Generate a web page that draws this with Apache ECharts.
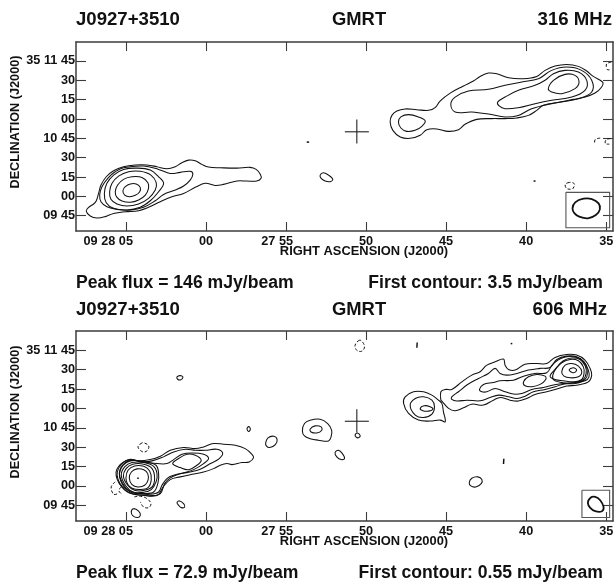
<!DOCTYPE html>
<html><head><meta charset="utf-8">
<style>html,body{margin:0;padding:0;background:#fff}#c{width:615px;height:582px}</style>
<script src="https://cdn.jsdelivr.net/npm/echarts@6/dist/echarts.min.js"></script>
</head><body><div id="c"></div>
<script>
// RA axis: seconds after 09 27 00. Dec axis: arcsec after 35 09 00.
const raTicks=[65,60,55,50,45,40,35];
const raLabels=['09 28 05','00','27 55','50','45','40','35'];
const decTicks=[165,150,135,120,105,90,75,60,45];
const decLabels=['35 11 45','30','15','00','10 45','30','15','00','09 45'];

// 316 MHz contours
const a316Outer=[[67.48,48.6],[67.33,51.5],[67.02,54.1],[66.85,56.6],[66.71,62.3],[66.56,68.8],[66.23,75.2],[65.77,79.9],[65.15,83.0],[64.42,84.3],[63.69,84.3],[63.07,83.0],[62.44,81.4],[61.92,83.0],[61.51,86.1],[61.09,88.1],[60.67,87.6],[60.26,84.8],[59.84,82.7],[59.11,82.2],[58.07,81.9],[57.24,82.5],[56.87,80.9],[56.62,77.3],[56.56,74.0],[56.83,71.9],[57.45,71.9],[58.07,71.9],[58.91,69.3],[59.43,68.5],[60.05,70.1],[60.67,67.0],[61.40,62.3],[62.13,59.7],[62.86,55.9],[63.59,51.5],[64.21,48.9],[65.04,48.1],[65.77,46.8],[66.29,44.3],[66.81,43.2],[67.23,44.8]];
const a316C2=[[66.64,61.0],[66.50,67.5],[66.08,74.7],[65.67,79.1],[65.15,82.2],[63.90,83.5],[62.96,80.9],[62.23,77.8],[61.61,78.6],[60.99,79.4],[60.82,77.3],[60.99,72.6],[61.40,68.0],[61.92,64.9],[62.65,61.5],[63.17,56.6],[63.90,51.5],[64.73,49.4],[65.56,49.9],[66.19,52.0],[66.56,55.9]];
const a316R4=[[66.35,62.3],[66.19,70.1],[65.77,76.5],[65.15,80.9],[64.31,81.9],[63.48,80.4],[62.96,75.2],[62.65,70.1],[62.96,63.6],[63.48,56.6],[64.11,51.5],[64.94,49.4],[65.77,50.7],[66.23,55.1]];
const a316R3=[[66.02,63.6],[65.87,70.1],[65.46,75.7],[64.83,79.1],[64.11,79.4],[63.44,76.5],[63.11,70.6],[63.17,64.9],[63.59,58.5],[64.21,54.1],[64.94,52.5],[65.56,54.1],[65.94,57.7]];
const a316R2=[[65.67,63.6],[65.52,68.8],[65.15,73.2],[64.63,75.2],[64.00,74.7],[63.63,70.6],[63.59,66.2],[63.79,61.0],[64.21,57.2],[64.73,55.4],[65.25,56.4],[65.56,59.2]];
const a316R1=[[65.19,64.4],[65.04,67.5],[64.73,69.6],[64.36,69.6],[64.11,67.0],[64.15,63.4],[64.42,60.8],[64.77,59.7],[65.08,61.0]];
const b316Outer=[[48.50,117.7],[48.39,122.8],[48.08,126.2],[47.56,127.8],[46.83,127.2],[46.10,126.7],[45.69,128.8],[45.38,133.9],[44.75,140.1],[43.92,145.6],[43.30,149.4],[42.88,153.0],[42.36,155.6],[41.84,155.1],[41.11,152.0],[40.18,151.2],[39.34,153.0],[38.82,157.7],[38.20,161.0],[37.47,162.3],[36.74,160.8],[36.22,157.2],[35.81,153.0],[35.23,148.6],[35.29,144.8],[35.70,140.1],[36.33,137.0],[37.06,135.2],[37.89,133.2],[38.93,130.6],[39.34,126.7],[39.86,122.8],[40.59,120.8],[41.32,120.3],[42.15,120.3],[43.09,119.7],[43.82,115.9],[44.23,111.7],[44.86,110.4],[45.58,112.3],[46.21,111.7],[46.62,107.4],[47.25,105.0],[47.87,106.1],[48.33,111.2]];
const b316C2=[[44.71,131.4],[44.44,137.0],[43.61,141.7],[42.36,143.0],[41.32,146.1],[40.28,148.7],[39.24,151.2],[38.41,157.7],[37.47,160.3],[36.54,157.7],[35.91,150.0],[35.91,140.9],[36.74,135.7],[38.41,131.9],[39.66,128.0],[40.49,122.8],[41.32,121.5],[42.26,123.6],[43.40,125.4],[44.44,125.4]];
const b316C3=[[41.78,133.2],[41.32,137.0],[40.49,142.2],[39.45,146.1],[38.82,150.0],[38.30,155.1],[37.58,157.7],[36.74,156.4],[36.22,150.0],[36.33,142.2],[37.16,137.0],[38.41,134.5],[39.45,131.9],[40.49,128.8],[41.32,128.0],[41.69,130.1]];
const b316C4=[[38.62,143.5],[38.30,150.0],[37.58,154.6],[36.95,153.8],[36.70,148.6],[36.95,143.5],[37.78,139.6],[38.41,140.9]];
const b316Left=[[47.98,117.7],[47.83,121.6],[47.35,123.4],[46.73,121.6],[46.31,118.5],[46.52,114.3],[46.94,111.2],[47.46,110.4],[47.83,113.0]];
const c316Small=[[52.87,76.5],[52.67,78.3],[52.35,76.5],[52.08,73.4],[52.25,71.4],[52.56,71.9],[52.81,73.9]];
const d316Dot1=[[53.71,102.1],[53.56,102.1]];
const d316Dot2=[[39.54,71.9],[39.42,71.9]];
const n316A=[[34.69,164],[34.96,163],[35,160.9],[34.94,158.3],[34.75,158.3]];
const n316B=[[35.38,105.2],[35.69,104.1],[35.73,101.6]];
const n316C=[[34.75,104.7],[35.0,104.1],[35.06,101.0],[34.81,100.5]];
const n316D=[[37.31,70.8],[37.56,69.3],[37.48,66.2],[37.2,65.5],[37.09,65.9],[36.98,69.3],[37.1,70.6]];
const beam316=[[37.11,50.7],[36.94,55.4],[36.42,58.2],[35.90,57.9],[35.48,54.6],[35.40,49.9],[35.65,45.5],[36.15,43.0],[36.69,44.3],[36.98,46.8]];
const box316=[[37.52,63.1],[34.79,63.1],[34.79,35.7],[37.52,35.7],[37.52,63.1]];

// 606 MHz contours
const a606A=[[65.62,70.8],[65.45,75.2],[65.14,78.6],[64.73,80.6],[64.21,79.4],[63.48,80.4],[62.85,83.0],[62.23,87.6],[61.40,89.7],[60.67,88.9],[60.15,90.2],[59.53,92.8],[58.90,92.3],[58.17,91.5],[57.55,88.9],[57.13,84.5],[57.03,81.9],[57.30,78.6],[57.76,78.1],[58.38,76.5],[58.69,77.3],[59.11,76.0],[59.53,73.4],[60.15,70.8],[60.88,69.0],[61.61,67.0],[62.23,64.9],[62.65,59.7],[62.96,53.5],[63.37,52.0],[63.89,52.8],[64.52,53.5],[64.93,55.4],[65.29,59.7],[65.54,64.9]];
const a606B=[[65.54,70.8],[65.25,77.3],[64.73,80.4],[64.10,78.8],[63.37,79.4],[62.65,82.5],[62.02,86.3],[61.29,88.4],[60.67,87.6],[60.05,87.6],[59.32,88.4],[58.96,85.5],[59.17,81.2],[59.73,77.3],[60.36,72.9],[61.09,70.6],[61.71,69.0],[62.23,66.2],[62.58,61.8],[62.85,54.1],[63.37,52.5],[64.21,53.0],[64.83,55.1],[65.25,59.7],[65.50,65.2]];
const a606C=[[65.41,70.8],[65.04,78.1],[64.52,79.9],[63.79,78.1],[63.06,77.3],[62.44,77.3],[62.02,80.4],[61.50,84.5],[60.88,85.5],[60.15,84.5],[59.84,81.2],[60.15,77.3],[60.77,72.6],[61.40,70.1],[62.02,68.3],[62.44,65.7],[62.75,60.5],[62.96,55.3],[63.48,53.5],[64.21,54.1],[64.83,56.6],[65.20,61.8]];
const a606Lobe=[[62.08,77.3],[61.71,81.2],[61.19,84.5],[60.67,83.7],[60.30,79.9],[60.57,76.0],[61.09,72.6],[61.61,74.2]];
const a606R6=[[65.41,69.5],[65.20,75.7],[64.73,79.4],[63.79,78.6],[63.12,76.0],[62.96,69.5],[63.0,62.3],[63.27,55.3],[63.89,54.1],[64.62,54.8],[65.08,58.7],[65.33,63.9]];
const a606R5=[[65.29,68.3],[65.08,74.7],[64.62,78.1],[63.89,78.1],[63.27,75.2],[63.06,69.5],[63.12,63.1],[63.42,57.2],[63.89,55.1],[64.52,55.1],[64.99,59.7]];
const a606R4=[[65.16,67.5],[64.99,73.4],[64.58,76.8],[63.89,76.8],[63.37,73.4],[63.21,65.7],[63.37,59.2],[63.89,56.4],[64.46,56.6],[64.89,60.5]];
const a606R3=[[65.0,66.2],[64.87,72.1],[64.46,75.5],[63.89,75.2],[63.52,71.6],[63.42,64.9],[63.62,58.7],[64.10,57.2],[64.62,58.2],[64.89,61.3]];
const a606R2=[[64.79,66.2],[64.66,70.8],[64.31,73.2],[63.89,72.6],[63.64,69.5],[63.62,64.4],[63.83,60.5],[64.25,59.2],[64.62,61.0]];
const a606Dot=[[64.3,65.9],[64.2,65.9]];
const b606LeftOuter=[[45.06,109.7],[45.37,110.96],[46.0,110.2],[46.73,110.96],[47.35,116.1],[47.66,123.9],[47.56,129.0],[47.04,132.9],[46.41,132.9],[45.89,130.3],[45.48,126.4],[45.27,123.9],[45.17,117.4]];
const b606LeftRing=[[47.25,122.6],[46.93,127.7],[46.41,129.0],[45.89,126.4],[45.73,121.3],[45.89,115.6],[46.41,113.0],[46.93,114.8]];
const b606LeftPeak=[[46.62,120.0],[46.37,122.1],[46.0,121.3],[45.83,119.5],[46.10,117.9],[46.46,118.2]];
const b606Outer=[[45.33,126.4],[45.33,132.9],[45.06,134.7],[44.65,134.7],[44.02,140.6],[43.40,145.8],[42.88,148.4],[42.46,153.5],[41.94,156.1],[41.42,158.2],[41.32,153.5],[41.11,150.2],[40.69,149.7],[40.07,154.3],[39.34,154.8],[38.72,154.8],[38.20,159.5],[37.47,161.8],[36.85,161.3],[36.33,157.4],[36.01,151.0],[35.91,145.8],[36.12,140.6],[36.85,138.0],[37.47,137.3],[38.09,135.0],[38.72,132.9],[39.45,130.8],[39.97,127.7],[40.49,125.7],[41.01,126.4],[41.63,128.5],[42.05,126.4],[42.67,122.6],[43.40,123.3],[43.92,120.5],[44.44,118.2],[44.85,120.0],[45.27,125.7]];
const b606C2=[[44.65,129.0],[44.23,132.9],[43.71,138.1],[42.98,143.2],[42.36,147.1],[41.94,151.0],[41.63,147.1],[41.21,145.8],[40.59,147.1],[39.86,149.7],[39.13,151.0],[38.51,151.7],[38.09,157.9],[37.47,160.5],[36.85,160.0],[36.39,156.1],[36.12,149.7],[36.08,144.5],[36.33,141.4],[37.05,139.9],[37.68,138.8],[38.20,136.8],[38.82,134.7],[39.55,132.9],[40.07,129.5],[40.59,127.7],[41.11,129.0],[41.73,130.3],[42.25,128.5],[42.88,125.9],[43.71,126.4],[44.33,125.7],[44.65,127.0]];
const b606C3=[[42.92,134.7],[42.67,138.6],[42.05,140.1],[41.63,141.4],[40.80,141.9],[40.17,145.0],[39.45,147.1],[38.72,147.6],[38.34,154.3],[37.68,159.5],[36.85,159.5],[36.33,154.8],[36.18,147.1],[36.33,142.4],[36.95,139.3],[37.68,139.3],[38.30,138.1],[38.93,136.2],[39.65,134.7],[40.28,131.6],[40.80,131.1],[41.32,132.9],[41.94,135.5],[42.46,132.9],[42.77,132.9]];
const b606C4=[[38.34,145.8],[38.09,151.7],[37.68,156.9],[37.16,159.0],[36.64,157.9],[36.31,152.8],[36.26,147.1],[36.43,142.4],[36.95,140.1],[37.68,139.9],[38.26,141.9]];
const b606C5=[[38.51,145.0],[38.20,150.2],[37.78,155.4],[37.26,157.9],[36.74,156.9],[36.43,152.2],[36.39,147.1],[36.53,142.4],[37.05,140.6],[37.68,141.4],[38.20,142.4]];
const b606Mid=[[40.17,140.6],[39.86,144.5],[39.34,146.3],[38.82,145.0],[38.78,142.4],[39.13,138.6],[39.65,136.8],[40.07,137.5]];
const b606Ring=[[37.78,148.4],[37.57,153.5],[37.16,154.8],[36.74,152.8],[36.53,148.4],[36.74,144.5],[37.26,143.7],[37.64,145.0]];
const b606Peak=[[37.32,149.7],[37.05,151.5],[36.85,149.7],[37.05,147.6]];
const c606S1=[[61.81,144.4],[61.60,145.4],[61.44,144.1],[61.60,142.1],[61.77,142.6]];
const c606S2=[[57.44,104.4],[57.33,105.9],[57.23,104.1],[57.33,102.1]];
const c606S3=[[56.27,93.6],[56.13,97.2],[55.77,98.5],[55.56,96.1],[55.67,92.0],[56.02,89.7],[56.23,91.0]];
const c606S4=[[53.98,102.6],[53.85,108.3],[53.50,110.8],[52.87,111.6],[52.40,108.3],[52.15,103.1],[52.19,97.9],[52.35,94.8],[52.98,95.4],[53.50,96.6],[53.85,98.7]];
const c606S4In=[[53.50,103.9],[53.19,106.5],[52.81,105.7],[52.77,103.1],[53.08,101.0],[53.44,101.8]];
const c606S5=[[51.94,85.8],[51.73,87.6],[51.48,85.0],[51.35,81.2],[51.56,80.4],[51.83,82.5]];
const c606S6=[[50.69,99.2],[50.54,101.0],[50.37,98.7],[50.54,97.2]];
const c606S7=[[43.56,62.6],[43.40,65.9],[43.02,67.0],[42.77,64.9],[42.81,61.8],[43.15,59.2],[43.46,60.0]];
const c606S8=[[64.67,39.9],[64.52,42.4],[64.21,40.4],[64.10,37.3],[64.27,35.5],[64.56,36.8]];
const c606S9=[[61.81,47.1],[61.65,48.4],[61.40,46.3],[61.33,43.7],[61.54,43.2],[61.71,45.0]];
const d606T1=[[41.42,77],[41.40,81]];
const d606T2=[[46.83,167],[46.81,171]];
const d606T3=[[40.97,170.2],[40.87,170.2]];
const n606A=[[50.42,172.8],[50.69,168.9],[50.58,165.0],[50.27,164.3],[50.10,167.6],[50.23,171.5]];
const n606B=[[64.0,93.3],[64.25,90.2],[63.94,86.3],[63.65,87.6],[63.58,91.0],[63.85,93.3]];
const n606C=[[65.67,63.1],[65.92,59.2],[65.77,53.5],[65.52,54.0]];
const n606D=[[65.46,62.6],[65.31,59.2],[65.46,56.6],[65.25,53.5]];
const n606E=[[64.48,51.5],[64.10,52.0],[63.69,50.2],[63.44,46.3],[63.58,43.2],[63.90,43.7],[64.10,47.6]];
const beam606=[[36.15,46.8],[36.0,50.7],[35.69,51.5],[35.38,48.9],[35.17,43.7],[35.27,40.4],[35.69,40.4],[36.0,43.0]];
const box606=[[36.52,56.6],[34.79,56.6],[34.79,35.5],[36.52,35.5],[36.52,56.6]];

const crossH=[[51.33,110.07],[49.83,110.07]];
const crossV316=[[50.58,119.6],[50.58,101.0]];
const crossV606=[[50.58,119.4],[50.58,101.3]];

const closed316=[a316Outer,a316C2,a316R4,a316R3,a316R2,a316R1,b316Outer,b316C2,b316C3,b316C4,b316Left,c316Small];
const open316=[d316Dot1,d316Dot2];
const dashedClosed316=[n316D];
const dashedOpen316=[n316A,n316B,n316C];
const closed606=[a606A,a606B,a606C,a606Lobe,a606R6,a606R5,a606R4,a606R3,a606R2,b606LeftOuter,b606LeftRing,b606LeftPeak,b606Outer,b606C2,b606C3,b606C4,b606C5,b606Mid,b606Ring,b606Peak,c606S1,c606S2,c606S3,c606S4,c606S4In,c606S5,c606S6,c606S7,c606S8,c606S9];
const open606=[a606Dot,d606T1,d606T2,d606T3];
const dashedClosed606=[n606A,n606B];
const dashedOpen606=[n606C,n606D,n606E];

const FONT='"Liberation Sans"';
const ink='#111';
const frame='#3c3c3c';

// one closed, smoothed ring per series; every vertex goes through the axes via api.coord
function contour(data,g,opt){
  opt=opt||{};
  return {type:'custom',coordinateSystem:'cartesian2d',xAxisIndex:g*2,yAxisIndex:g*2,data:data,
    encode:{x:0,y:1},silent:true,animation:false,clip:false,z:3,
    renderItem:function(params,api){
      if(params.dataIndex!==0)return null;
      const pts=data.map(p=>api.coord(p));
      return {type:opt.open?'polyline':'polygon',
        shape:{points:pts,smooth:opt.smooth===undefined?0.38:opt.smooth},
        style:{fill:null,stroke:opt.color||ink,lineWidth:opt.width||1.05,lineDash:opt.dash||null}};
    }};
}
function panel(g,closed,open,dc,dopen,beam,box,crossV){
  const s=[];
  closed.forEach(p=>s.push(contour(p,g)));
  open.forEach(p=>s.push(contour(p,g,{open:true,smooth:0,width:1.5})));
  dc.forEach(p=>s.push(contour(p,g,{dash:[3,2],width:1})));
  dopen.forEach(p=>s.push(contour(p,g,{open:true,dash:[3,2],width:1})));
  s.push(contour(box,g,{open:true,smooth:0,color:'#555',width:1.1}));
  s.push(contour(beam,g,{width:1.8}));
  s.push(contour(crossH,g,{open:true,smooth:0,color:'#222',width:1.1}));
  s.push(contour(crossV,g,{open:true,smooth:0,color:'#222',width:1.1}));
  return s;
}
const series=panel(0,closed316,open316,dashedClosed316,dashedOpen316,beam316,box316,crossV316)
  .concat(panel(1,closed606,open606,dashedClosed606,dashedOpen606,beam606,box606,crossV606));

const raMin=34.58,raMax=68.12;
function xAxis(g,pos,lab){
  return {type:'value',gridIndex:g,position:pos,inverse:true,min:raMin,max:raMax,
    axisLine:{show:true,onZero:false,lineStyle:{color:frame,width:1.5}},
    axisTick:{show:true,inside:true,length:9,customValues:raTicks,lineStyle:{color:frame,width:1.1}},
    axisLabel:{show:lab,customValues:raTicks,margin:4,align:'right',padding:[0,-7,0,0],color:ink,fontFamily:FONT,fontWeight:'bold',fontSize:12.7,
      formatter:v=>raLabels[raTicks.indexOf(v)]},
    splitLine:{show:false}};
}
function yAxis(g,pos,lab,min,max){
  return {type:'value',gridIndex:g,position:pos,min:min,max:max,
    axisLine:{show:true,onZero:false,lineStyle:{color:frame,width:1.5}},
    axisTick:{show:true,inside:true,length:10,customValues:decTicks,lineStyle:{color:frame,width:1.1}},
    axisLabel:{show:lab,customValues:decTicks,margin:1,color:ink,fontFamily:FONT,fontWeight:'bold',fontSize:12.7,
      formatter:v=>decLabels[decTicks.indexOf(v)]},
    splitLine:{show:false}};
}
function txt(t,x,y,size,align,rot){
  const e={type:'text',x:x,y:y,style:{text:t,font:'bold '+size+'px '+FONT,fill:ink,textAlign:align||'left',textVerticalAlign:'middle'},silent:true};
  if(rot)e.rotation=rot;
  return e;
}
const texts=[
  txt('J0927+3510',76,20,18.6),txt('GMRT',332,20,18.4),txt('316 MHz',612,20,18.6,'right'),
  txt('RIGHT ASCENSION (J2000)',364,251,12.9,'center'),
  txt('DECLINATION (J2000)',15.7,122,12.7,'center',Math.PI/2),
  txt('Peak flux = 146 mJy/beam',76,283,17.6),txt('First contour: 3.5 mJy/beam',603,283,17.6,'right'),
  txt('J0927+3510',76,310,18.6),txt('GMRT',332,310,18.4),txt('606 MHz',607,310,18.6,'right'),
  txt('RIGHT ASCENSION (J2000)',364,541,12.9,'center'),
  txt('DECLINATION (J2000)',15.7,412,12.7,'center',Math.PI/2),
  txt('Peak flux = 72.9 mJy/beam',76,573,17.6),txt('First contour: 0.55 mJy/beam',603,573,17.6,'right')
];

const chart=echarts.init(document.getElementById('c'),null,{renderer:'canvas'});
chart.setOption({
  backgroundColor:'#fff',animation:false,
  grid:[{left:76,top:42,width:537,height:189,containLabel:false,outerBoundsMode:'none'},{left:76,top:331,width:537,height:190,containLabel:false,outerBoundsMode:'none'}],
  xAxis:[xAxis(0,'bottom',true),xAxis(0,'top',false),xAxis(1,'bottom',true),xAxis(1,'top',false)],
  yAxis:[yAxis(0,'left',true,33.15,179.7),yAxis(0,'right',false,33.15,179.7),yAxis(1,'left',true,32.84,179.95),yAxis(1,'right',false,32.84,179.95)],
  graphic:texts,
  series:series
});
</script></body></html>
